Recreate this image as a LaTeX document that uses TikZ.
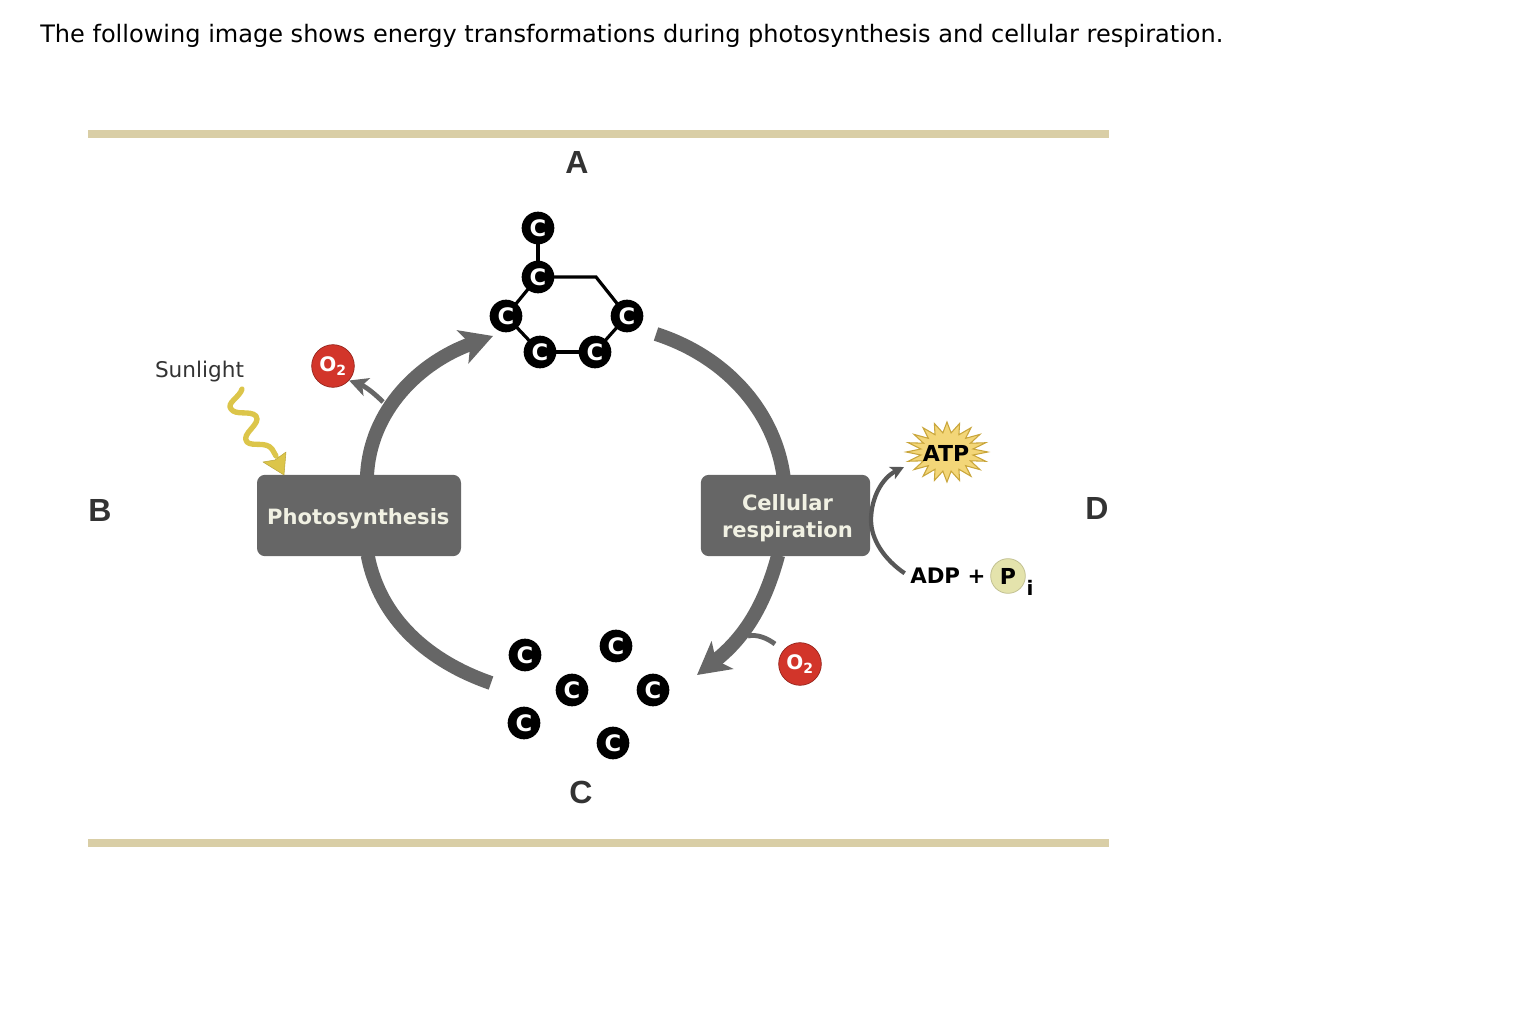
\documentclass[tikz,border=0pt]{standalone}
\usepackage{fontspec}
\setmainfont{DejaVu Sans}
\newfontfamily\labelfont{Liberation Sans}
\usetikzlibrary{arrows.meta,shapes.geometric,backgrounds}
\definecolor{rulecol}{HTML}{D9CEA6}
\definecolor{boxgray}{HTML}{666666}
\definecolor{boxtext}{HTML}{F1F1E3}
\definecolor{oxred}{HTML}{D2352A}
\definecolor{sunyel}{HTML}{DCC54A}
\definecolor{atpfill}{HTML}{F3D678}
\definecolor{atpline}{HTML}{C9A63C}
\definecolor{pifill}{HTML}{E4E3AC}
\definecolor{textgray}{HTML}{333333}
\newcommand{\fsz}[1]{\fontsize{#1}{#1}\selectfont}
\tikzset{
  px/.style={x=0.75pt,y=-0.75pt},
  rulebar/.style={draw=rulecol,line width=6pt},
  procbox/.style={fill=boxgray,draw=none,rounded corners=6pt,text=boxtext,font=\bfseries\fsz{15.8},align=center,inner sep=0pt},
  carbon/.style={circle,fill=black,draw=none,minimum size=24.5pt,inner sep=0pt,text=white,font=\bfseries\fsz{17}},
  bond/.style={draw=black,line width=2.4pt},
  bigflow/.style={draw=boxgray,line width=10.5pt},
  bighead/.style={-{Stealth[length=24pt,width=26pt,inset=6pt]}},
  oxy/.style={circle,fill=oxred,draw=oxred!70!black,line width=.5pt,minimum size=32pt,inner sep=0pt,text=white,font=\bfseries\fsz{15}},
  smallflow/.style={draw=boxgray,line width=3.6pt},
  letter/.style={font=\labelfont\bfseries\fsz{24},text=textgray,inner sep=0pt},
}
\begin{document}
\begin{tikzpicture}[px]
\useasboundingbox (0,0) rectangle (1538,1030);
\node[anchor=west,inner sep=0pt,text=black,font=\fsz{18.02}] (title) at (40,36) {The following image shows energy transformations during photosynthesis and cellular respiration.};
% rules
\coordinate (rt1) at (88,134); \coordinate (rt2) at (1109,134);
\coordinate (rb1) at (88,843); \coordinate (rb2) at (1109,843);
\draw[rulebar] (rt1) -- (rt2);
\draw[rulebar] (rb1) -- (rb2);
% letters
\node[letter] (la) at (577,162) {A};
\node[letter] (lb) at (100,510) {B};
\node[letter] (lc) at (581,792) {C};
\node[letter] (ld) at (1097,508) {D};
% process boxes
\node[procbox,minimum width=153pt,minimum height=61pt] (photo) at (359,515.5) {\raisebox{-6.4pt}[0pt][0pt]{\hspace{-1pt}Photosynthesis}};
\node[procbox,minimum width=127pt,minimum height=61pt] (resp) at (785.5,515.5) {\rule{0pt}{16pt}\hspace{3pt}Cellular\\[4.5pt]\hspace{3pt}respiration};
% big flow
\coordinate (fa) at (493,336);
\coordinate (fb) at (656,334);
\coordinate (fc) at (697,675);
\coordinate (fd) at (491,683);
\draw[bigflow,bighead] ([xshift=6pt,yshift=-1pt]photo.north) .. controls (370,410) and (420,362) .. (fa);
\draw[bigflow] (fb) .. controls (730,358) and (775,415) .. ([xshift=-1.5pt,yshift=-1pt]resp.north);
\draw[bigflow,bighead] ([xshift=-5.5pt,yshift=1pt]resp.south) .. controls (766,600) and (748,635) .. (fc);
\draw[bigflow] ([xshift=6.5pt,yshift=1pt]photo.south) .. controls (380,620) and (430,662) .. (fd);
% carbons top
\node[carbon] (c1) at (538,228) {C};
\node[carbon] (c2) at (538,277) {C};
\node[carbon] (c3) at (506,316) {C};
\node[carbon] (c4) at (627,316) {C};
\node[carbon] (c5) at (540,352) {C};
\node[carbon] (c6) at (595,352) {C};
\coordinate (corner) at (596,277);
\begin{scope}[on background layer]
\draw[bond] (c1.center) -- (c2.center);
\draw[bond] (c2.center) -- (c3.center);
\draw[bond] (c3.center) -- (c5.center);
\draw[bond] (c5.center) -- (c6.center);
\draw[bond] (c6.center) -- (c4.center);
\draw[bond] (c4.center) -- (corner) -- (c2.center);
\end{scope}
% carbons bottom
\node[carbon] (d1) at (525,655) {C};
\node[carbon] (d2) at (616,646) {C};
\node[carbon] (d3) at (572,690) {C};
\node[carbon] (d4) at (653,690) {C};
\node[carbon] (d5) at (524,723) {C};
\node[carbon] (d6) at (613,743) {C};
% oxygen
\node[oxy] (o1) at (333,366) {O\textsubscript{2}};
\node[oxy] (o2) at (800,664) {O\textsubscript{2}};
\coordinate (ob1) at (383,402);
\coordinate (ob2) at (748,636);
\coordinate (ob3) at (775,644);
\draw[smallflow,-{Stealth[length=14pt,width=14pt,inset=3.5pt]}] (ob1) .. controls (372,391) and (364,386) .. (o1.-42);
\draw[smallflow] (ob2) .. controls (757,634) and (767,638) .. (ob3);
% sunlight
\node[inner sep=0pt,text=textgray,font=\fsz{16.2}] (sun) at (199.5,372) {Sunlight};
\coordinate (s0) at (242,389);
\coordinate (s1) at (284,475);
\draw[draw=sunyel,line width=4pt,line cap=round,line join=round]
  (s0) .. controls (240,397) and (226,403) .. (231,409)
  .. controls (236,416) and (250,410) .. (256,416)
  .. controls (262,424) and (240,434) .. (247,442)
  .. controls (252,447) and (266,441) .. (272,449) -- (276,456);
\fill[sunyel,draw=sunyel!85!black,line width=.4pt,line join=round] (s1) -- (286,452) -- (275,460) -- (263,462) -- cycle;
% ADP / ATP
\begin{scope}[xscale=1.36]
\node[star,star points=20,star point ratio=1.55,fill=atpfill,draw=atpline,line width=.8pt,minimum size=45pt,inner sep=0pt,transform shape] (atp) at (696.3,452) {};
\end{scope}
\node[inner sep=0pt,font=\bfseries\fsz{16.5},text=black] (atplabel) at (946,453) {ATP};
\node[inner sep=0pt,font=\bfseries\fsz{16},text=black,anchor=west] (adp) at (910,576) {ADP +};
\node[circle,fill=pifill,draw=pifill!85!black,line width=.6pt,minimum size=26pt,inner sep=0pt,font=\bfseries\fsz{16.5},text=black] (pi) at (1008,576) {P};
\node[inner sep=0pt,font=\bfseries\fsz{15},text=black] (pisub) at (1030,588) {i};
\draw[draw=boxgray!85!black,line width=3.2pt,-{Stealth[length=10pt,width=10pt,inset=2.5pt]}] ([xshift=-4pt,yshift=-4pt]adp.north west) .. controls (885,560) and (871,540) .. (871,520) .. controls (871,498) and (882,478) .. (904,467);
\end{tikzpicture}
\end{document}
